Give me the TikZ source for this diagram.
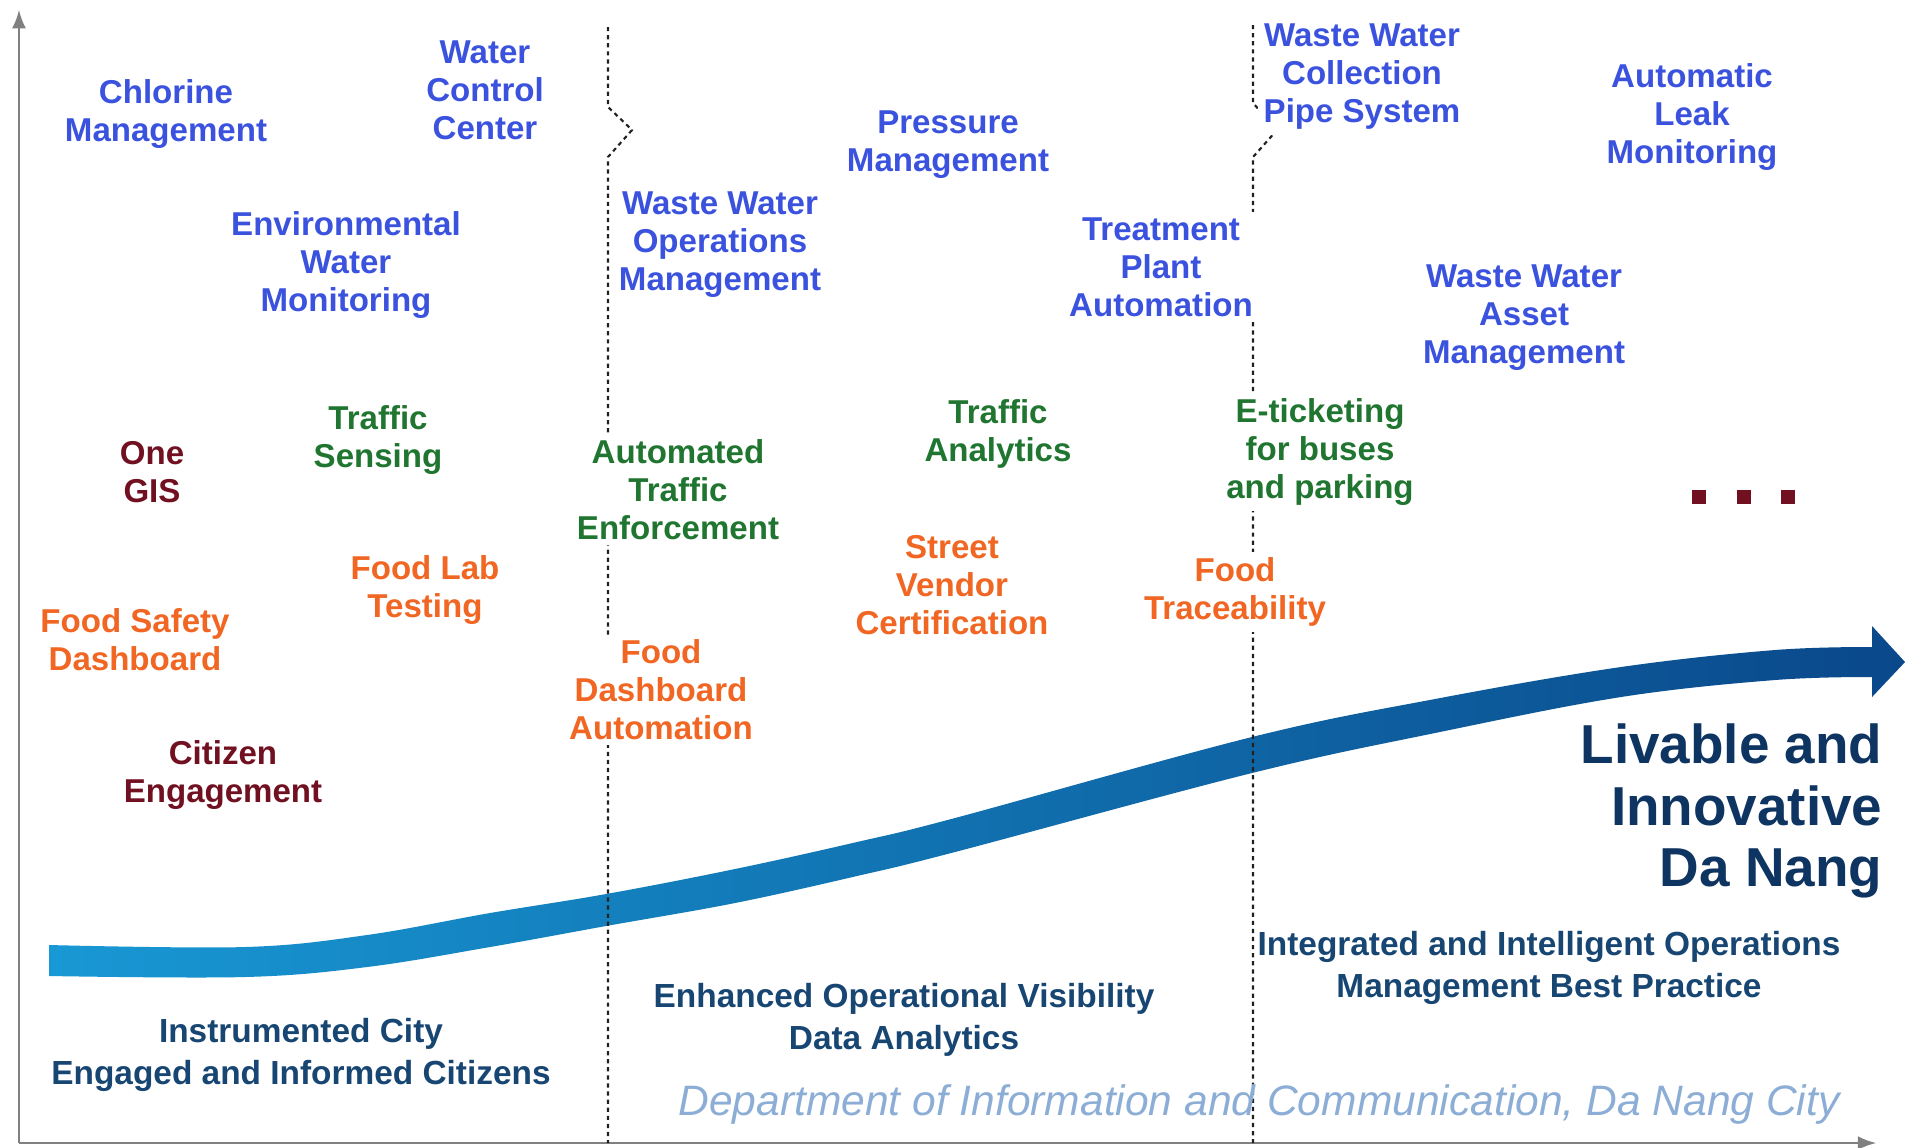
\documentclass[tikz,border=0pt]{standalone}
\usepackage{fontspec}
\setmainfont{Liberation Sans}
\definecolor{itblue}{RGB}{58,82,222}
\definecolor{itgreen}{RGB}{32,118,48}
\definecolor{itorange}{RGB}{240,102,34}
\definecolor{itred}{RGB}{112,16,32}
\definecolor{stagenavy}{RGB}{24,70,114}
\definecolor{goalnavy}{RGB}{14,52,98}
\definecolor{deptblue}{RGB}{140,174,214}
\definecolor{arrowleft}{RGB}{24,152,212}
\definecolor{arrowright}{RGB}{10,72,138}
\begin{document}
\begin{tikzpicture}[>=latex,x=0.01cm,y=-0.01cm,
  item/.style={font=\bfseries\fontsize{9.4}{10.8}\selectfont,align=center,fill=white,inner sep=1.5pt},
  wblue/.style={item,text=itblue},
  wgreen/.style={item,text=itgreen},
  worange/.style={item,text=itorange},
  wred/.style={item,text=itred},
  stage/.style={font=\bfseries\fontsize{9.5}{11.8}\selectfont,align=center,text=stagenavy,inner sep=0pt},
  sep/.style={gray!25!black,line width=0.6pt,dash pattern=on 1.2pt off 1.1pt}]
\useasboundingbox (0,0) rectangle (1910,1147);
\fill[white] (0,0) rectangle (1910,1147);

% axes
\coordinate (o) at (19,1143);
\coordinate (ytop) at (19,10);
\coordinate (xend) at (1876,1143);
\draw[->,gray,line width=0.8pt] (o)--(ytop);
\draw[->,gray,line width=0.8pt] (o)--(xend);

% growth arrow
\shade[left color=arrowleft,right color=arrowright]
  plot[smooth,tension=0.6] coordinates {(49,945) (245,947) (367,935) (490,913) (606,894) (735,869) (857,842) (955,818) (1252,737) (1435,699) (1621,667) (1775,650) (1872,647)}
  -- (1872,626) -- (1905,662) -- (1872,697)
  -- plot[smooth,tension=0.6] coordinates {(1872,677) (1775,680) (1621,697) (1435,733) (1252,773) (955,852) (857,876) (735,903) (606,926) (490,947) (367,967) (245,977) (49,976)}
  -- cycle;

% stage separators
\draw[sep] (608,27)--(608,107)--(632,130)--(608,157)--(608,1143);
\draw[sep] (1253,25)--(1253,103)--(1277,130)--(1253,157)--(1253,1143);

\node (chlorine) at (166,114)[wblue]{Chlorine\\Management};
\node (watercc) at (485,90)[wblue]{Water\\Control\\Center};
\node (envwater) at (346,265)[wblue]{Environmental\\Water\\Monitoring};
\node (wwops) at (720,245)[wblue]{Waste Water\\Operations\\Management};
\node (pressure) at (948,145)[wblue]{Pressure\\Management};
\node (treatment) at (1161,267)[wblue]{Treatment\\Plant\\Automation};
\node (wwpipe) at (1362,77)[wblue]{Waste Water\\Collection\\Pipe System};
\node (leak) at (1692,117)[wblue]{Automatic\\Leak\\Monitoring};
\node (wwasset) at (1524,318)[wblue]{Waste Water\\Asset\\Management};

\node (onegis) at (152,472)[wred]{One\\GIS};
\node (trsensing) at (378,440)[wgreen]{Traffic\\Sensing};
\node (autotraffic) at (678,490)[wgreen]{Automated\\Traffic\\Enforcement};
\node (tranalytics) at (998,434)[wgreen]{Traffic\\Analytics};
\node (eticket) at (1320,452)[wgreen]{E-ticketing\\for buses\\and parking};

\node (foodlab) at (425,590)[worange]{Food Lab\\Testing};
\node (foodsafety) at (135,640)[worange]{Food Safety\\Dashboard};
\node (vendor) at (952,585)[worange]{Street\\Vendor\\Certification};
\node (foodtrace) at (1235,592)[worange]{Food\\Traceability};
\node (fooddash) at (661,690)[worange]{Food\\Dashboard\\Automation};
\node (citizen) at (223,775)[wred]{Citizen\\Engagement};

\foreach \x in {1699,1744,1788}
{
    \fill[itred] (\x-7,490) rectangle (\x+7,504);
}

\node (livable) at (1883,811)[anchor=east,align=right,inner sep=0pt,text=goalnavy,
  font=\bfseries\fontsize{15.6}{17.4}\selectfont]{Livable and\\Innovative\\Da Nang};
\node (instrumented) at (301,1055)[stage]{Instrumented City\\Engaged and Informed Citizens};
\node (enhanced) at (904,1020)[stage]{Enhanced Operational Visibility\\Data Analytics};
\node (integrated) at (1549,968)[stage]{Integrated and Intelligent Operations\\Management Best Practice};
\node (dept) at (1259,1104)[text=deptblue,inner sep=0pt,font=\itshape\fontsize{12.1}{14}\selectfont]{Department of Information and Communication, Da Nang City};

\end{tikzpicture}
\end{document}
